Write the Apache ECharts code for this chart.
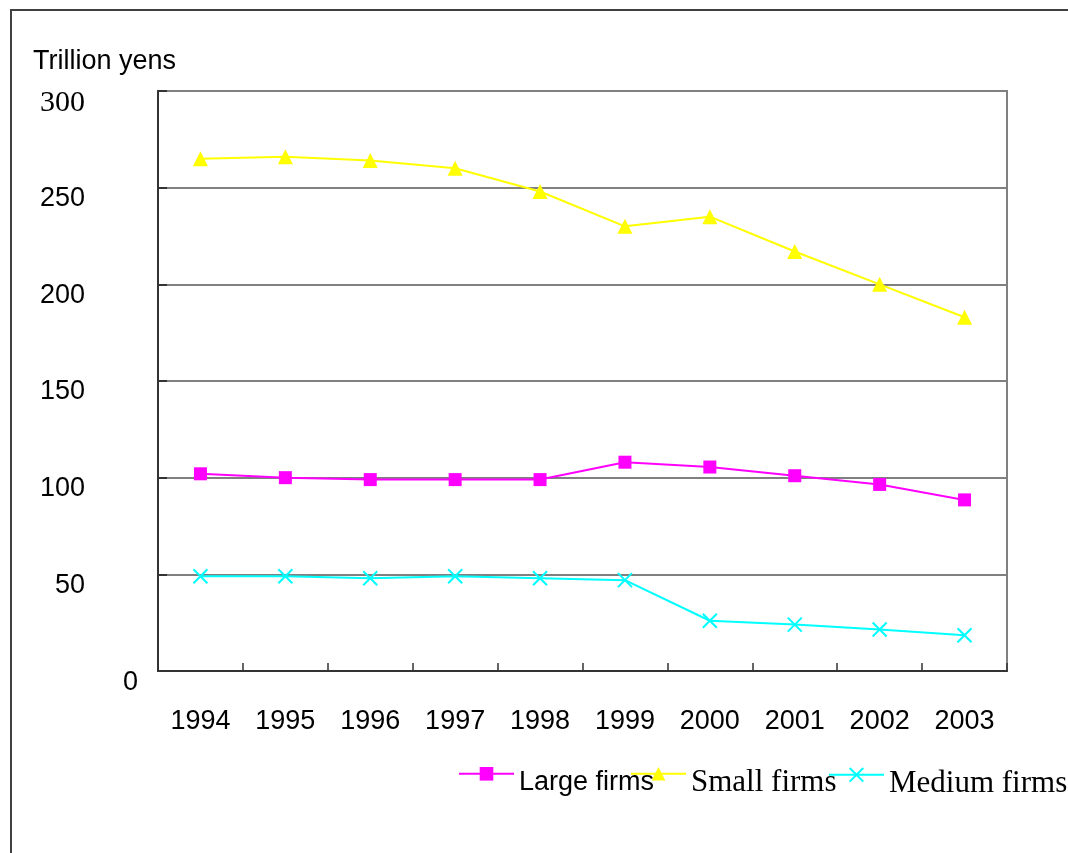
<!DOCTYPE html>
<html>
<head>
<meta charset="utf-8">
<script src="https://cdn.jsdelivr.net/npm/echarts@6/dist/echarts.min.js"></script>
<style>
  html, body { margin: 0; padding: 0; background: #fff; overflow: hidden; }
  #frame { position: absolute; left: 10px; top: 9px; width: 1200px; height: 1000px; border: 2px solid #404040; }
  #chart { position: absolute; left: 0; top: 0; width: 1068px; height: 853px; }
</style>
</head>
<body>
<div id="frame"></div>
<div id="chart"></div>
<script>
var years = ['1994', '1995', '1996', '1997', '1998', '1999', '2000', '2001', '2002', '2003']
var largeFirms = [102, 100, 99, 99, 99, 108, 105.5, 101, 96.5, 88.5]
var smallFirms = [265, 266, 264, 260, 248, 230, 235, 217, 200, 183]
var mediumFirms = [49, 49, 48, 49, 48, 47, 26, 24, 21.5, 18.5]

var sans = 'Liberation Sans'
var serif = 'Liberation Serif'
var crossPath = 'path://M0,0L10,10M10,0L0,10'

var chart = echarts.init(document.getElementById('chart'))

// one legend per item so each can sit where the original put it
function legendAt (left, name, font, size) {
  return {
    left: left,
    top: 762,
    itemWidth: 55,
    itemHeight: 17,
    formatter: '{t|{name}}',
    textStyle: {
      rich: {
        t: { fontFamily: font, fontSize: size, color: '#000', padding: [18, 0, 0, 0] }
      }
    },
    data: [name]
  }
}

var options = {
  animation: false,
  title: {
    text: 'Trillion yens',
    left: 28,
    top: 43,
    textStyle: { fontFamily: sans, fontSize: 27, fontWeight: 'normal', color: '#000' }
  },
  legend: [
    legendAt(453, 'Large firms', sans, 27),
    legendAt(625, 'Small firms', serif, 31),
    legendAt(823, 'Medium firms', serif, 31)
  ],
  grid: {
    left: 158,
    top: 91,
    right: 61,
    bottom: 182,
    show: true,
    borderColor: '#808080',
    borderWidth: 2
  },
  xAxis: {
    type: 'category',
    data: years,
    axisLine: { lineStyle: { color: '#333', width: 2 } },
    axisTick: { show: true, inside: true, length: 8, lineStyle: { color: '#333', width: 1.5 } },
    axisLabel: { margin: 37, fontFamily: sans, fontSize: 27, color: '#000' }
  },
  yAxis: {
    type: 'value',
    min: 0,
    max: 300,
    interval: 50,
    axisLine: { show: true, lineStyle: { color: '#333', width: 2 } },
    axisTick: { show: true, inside: true, length: 9, lineStyle: { color: '#333', width: 2 } },
    splitLine: { lineStyle: { color: '#808080', width: 2 } },
    axisLabel: {
      align: 'left',
      margin: 118,
      formatter: function (v) {
        if (v === 300) return '{s|300}'
        if (v === 0) return '{z|0}'
        if (v === 50) return '{f|50}'
        return '{n|' + v + '}'
      },
      rich: {
        n: { fontFamily: sans, fontSize: 27, color: '#000', padding: [22, 0, 0, 0] },
        f: { fontFamily: sans, fontSize: 27, color: '#000', padding: [22, 0, 0, 15] },
        z: { fontFamily: sans, fontSize: 27, color: '#000', padding: [24, 0, 0, 83] },
        s: { fontFamily: serif, fontSize: 30, color: '#000', padding: [24, 0, 0, 0] }
      }
    }
  },
  series: [
    {
      name: 'Large firms',
      type: 'line',
      data: largeFirms,
      symbol: 'rect',
      symbolSize: 13,
      lineStyle: { color: '#ff00ff', width: 2 },
      itemStyle: { color: '#ff00ff' }
    },
    {
      name: 'Small firms',
      type: 'line',
      data: smallFirms,
      symbol: 'triangle',
      symbolSize: 15,
      lineStyle: { color: '#ffff00', width: 2 },
      itemStyle: { color: '#ffff00' }
    },
    {
      name: 'Medium firms',
      type: 'line',
      data: mediumFirms,
      symbol: crossPath,
      symbolSize: 14,
      lineStyle: { color: '#00ffff', width: 2 },
      itemStyle: { color: '#00ffff', borderColor: '#00ffff', borderWidth: 2 }
    }
  ]
}

chart.setOption(options)
</script>
</body>
</html>
